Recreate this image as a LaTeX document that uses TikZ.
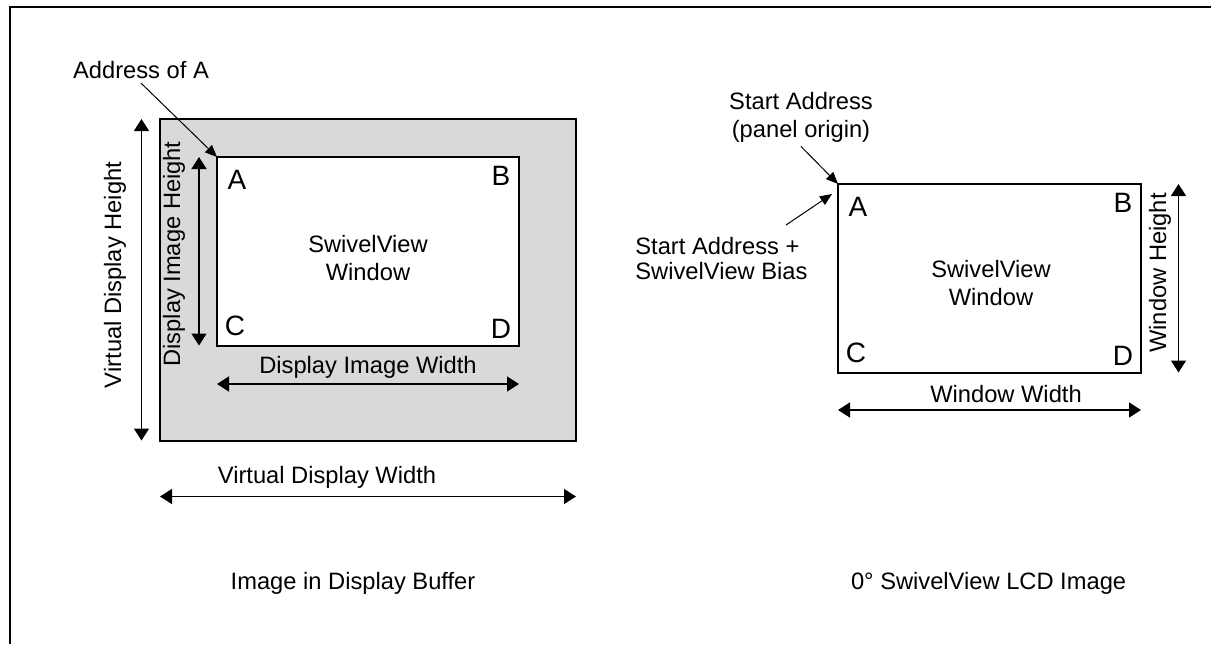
\documentclass[tikz,border=0pt]{standalone}
\usepackage{fontspec}
\setmainfont{Liberation Sans}
\usetikzlibrary{arrows.meta}
\definecolor{bufgray}{RGB}{217,217,217}
\newcommand{\txt}[0]{\fontsize{11.85}{14}\selectfont}
\newcommand{\bigtxt}[0]{\fontsize{14}{16}\selectfont}
\newcommand{\corners}[1]{\node[letter] (#1A) at ([shift={(20,23)}]#1.north west) {A};
	\node[letter] (#1B) at ([shift={(-18,19)}]#1.north east) {B};
	\node[letter] (#1C) at ([shift={(18,-20)}]#1.south west) {C};
	\node[letter] (#1D) at ([shift={(-18,-17)}]#1.south east) {D}}

\begin{document}
\begin{tikzpicture}[x=0.5pt, y=-0.5pt,
	every node/.style={font=\txt, inner sep=0pt},
	box/.style={draw, line width=1pt, outer sep=0pt, minimum height=94.25pt},
	letter/.style={font=\bigtxt},
	dim/.style={line width=0.75pt, {Triangle[length=6pt,width=7.5pt]}-{Triangle[length=6pt,width=7.5pt]}},
	callout/.style={line width=0.5pt, -{Triangle[length=6pt,width=5pt]}},
	note/.style={inner sep=2pt}]
\useasboundingbox (0,0) rectangle (1211,644);
%Frame
	\draw[line width=1pt] (1211,7) -- (10,7) -- (10,644);
%Display buffer
	\node[box, fill=bufgray, minimum width=208pt, minimum height=160.75pt] (vbuf) at (368,279.75) {};
	\node[box, fill=white, minimum width=151pt] (simg) at (368,251.25) {};
	\corners{simg};
	\node[align=center] (simgtxt) at (368,258) {SwivelView\\Window};
	\coordinate (vdh) at (141.5,0);
	\draw[dim] (vbuf.north west -| vdh) -- (vbuf.south west -| vdh);
	\node[rotate=90] (vdhlbl) at (115,275) {Virtual Display Height};
	\coordinate (dih) at (199,0);
	\draw[dim] (simg.north west -| dih) -- (simg.south west -| dih);
	\node[rotate=90] (dihlbl) at (174,254) {Display Image Height};
	\coordinate (diw) at (0,384);
	\draw[dim] (simg.south west |- diw) -- (simg.south east |- diw);
	\node (diwlbl) at (368,367) {Display Image Width};
	\coordinate (vdw) at (0,496.5);
	\draw[dim] (vbuf.south west |- vdw) -- (vbuf.south east |- vdw);
	\node (vdwlbl) at (327,477) {Virtual Display Width};
	\node[note] (addr) at (141,70) {Address of A};
	\draw[callout] (addr.south) -- (simg.north west);
	\node (bufcap) at (353,583) {Image in Display Buffer};
%LCD image
	\node[box, minimum width=151.5pt] (lcd) at (989.5,278.25) {};
	\corners{lcd};
	\node[align=center] (lcdtxt) at (991,283.5) {SwivelView\\Window};
	\coordinate (wh) at (1178.5,0);
	\draw[dim] (lcd.north east -| wh) -- (lcd.south east -| wh);
	\node[rotate=90] (whlbl) at (1160,273) {Window Height};
	\coordinate (ww) at (0,410);
	\draw[dim] (lcd.south west |- ww) -- (lcd.south east |- ww);
	\node (wwlbl) at (1006,394) {Window Width};
	\node[note, align=center] (start) at (801,117) {Start Address\\(panel origin)};
	\draw[callout] (start.south) -- (lcd.north west);
	\node[note, align=left, anchor=west, font=\fontsize{11.85}{12.5}\selectfont] (bias) at (631,259) {Start Address +\\SwivelView Bias};
	\coordinate (biastail) at (786,225);
	\coordinate (biashead) at (832,194);
	\draw[callout] (biastail) -- (biashead);
	\node (lcdcap) at (988.6,583) {0° SwivelView LCD Image};
\end{tikzpicture}
\end{document}
